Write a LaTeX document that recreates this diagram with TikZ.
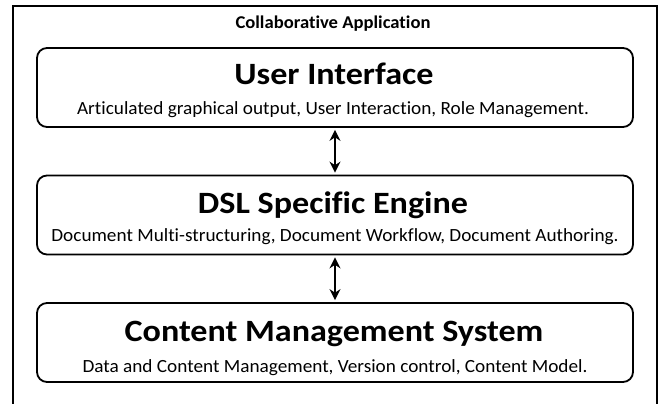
\documentclass[tikz,border=0pt]{standalone}
\usepackage{fontspec}
\setmainfont{Carlito}[Ligatures=NoCommon]
\newfontfamily\headfont{Carlito}[Ligatures=NoCommon, FakeStretch=1.1]
\newfontfamily\descfont{Carlito}[Ligatures=NoCommon, FakeStretch=1.035]
\usetikzlibrary{arrows.meta}
\tikzset{
  layerbox/.style={draw=black, line width=1.8pt, rounded corners=10pt,
    minimum width=596pt, minimum height=79pt, inner sep=0pt},
  layertitle/.style={font=\headfont\fontsize{31}{33}\selectfont\bfseries, inner sep=0pt, anchor=base},
  layerdesc/.style={font=\descfont\fontsize{18.6}{20}\selectfont, inner sep=0pt, anchor=base},
  linkarrow/.style={{Stealth[length=11pt,width=11pt]}-{Stealth[length=11pt,width=11pt]},
    line width=2pt, shorten <=2pt, shorten >=2pt}
}
\begin{document}
\begin{tikzpicture}[x=1pt, y=-1pt]
% page size
\useasboundingbox (0,0) rectangle (662,404);
% Outer frame, open at the bottom
\draw[line width=1.8pt] (13,410) -- (13,6) -- (657,6) -- (657,410);
\node[font=\descfont\fontsize{18}{20}\selectfont\bfseries, inner sep=0pt, anchor=base] (apptitle) at (333,28.3) {Collaborative Application};
% Layers
\node[layerbox] (ui) at (335,87.5) {};
\node[layerbox] (dsl) at (335,215) {};
\node[layerbox] (cms) at (335,342.5) {};
% Layer texts
\node[layertitle] (uihead) at (334,84.3) {User Interface};
\node[layerdesc] (uidesc) at (333,114.3) {Articulated graphical output, User Interaction, Role Management.};
\node[layertitle] (dslhead) at (333,213) {DSL Specific Engine};
\node[layerdesc] (dsldesc) at (335,241.7) {Document Multi-structuring, Document Workflow, Document Authoring.};
\node[layertitle] (cmshead) at (334,341.5) {Content Management System};
\node[layerdesc] (cmsdesc) at (335,372.5) {Data and Content Management, Version control, Content Model.};
% Links between layers
\draw[linkarrow] (ui.south) -- (dsl.north);
\draw[linkarrow] (dsl.south) -- (cms.north);
\end{tikzpicture}
\end{document}
